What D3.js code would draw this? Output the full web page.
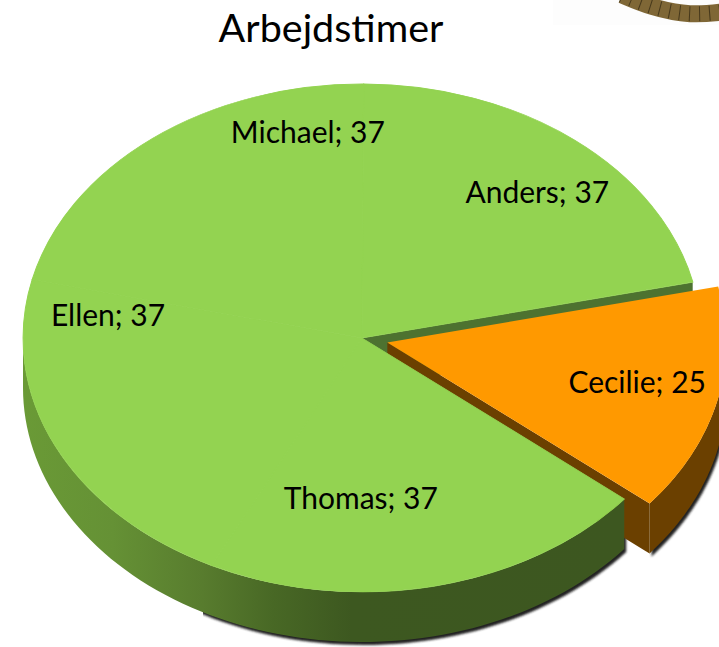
<!DOCTYPE html>
<html><head><meta charset="utf-8">
<script src="https://cdn.jsdelivr.net/npm/d3@7"></script>
<style>html,body{margin:0;padding:0;background:#fff;overflow:hidden}svg{display:block}text{font-family:Lato,"Open Sans",sans-serif;fill:#000}</style>
</head><body><svg id="c" width="719" height="647"></svg>
<script>
const title = "Arbejdstimer";
const names = ["Cecilie","Thomas","Ellen","Michael","Anders"];
const hours = [25,37,37,37,37];
const labelAngleDeg = [101.5,180.3,-82.8,-11.1,41.8];
const labelRadius = [255,212,256,281,263];

const W=719,H=647,cx=362,cy=338,rx=339,ry=254,depth=50,explode=26,rad=Math.PI/180;
const start=77.3*rad;
const svg=d3.select("#c");
const pie=d3.pie().sort(null).value(d=>d).startAngle(start).endAngle(start+2*Math.PI);
const arcs=pie(hours);
const arc=d3.arc().innerRadius(0).outerRadius(1);
const C=arcs[0], mid=(C.startAngle+C.endAngle)/2;
const ox=explode*Math.sin(mid), oy=-explode*Math.cos(mid)*ry/rx;
const px=(a,dx=0)=>cx+dx+rx*Math.sin(a), py=(a,dy=0)=>cy+dy-ry*Math.cos(a);

const defs=svg.append("defs");
const g=defs.append("linearGradient").attr("id","wall").attr("gradientUnits","userSpaceOnUse").attr("x1",23).attr("x2",620).attr("y1",0).attr("y2",0);
[[0,"#6a9a36"],[.15,"#659135"],[.3,"#587c2e"],[.42,"#486825"],[.55,"#3d5820"],[1,"#3d5720"]].forEach(s=>g.append("stop").attr("offset",s[0]).attr("stop-color",s[1]));
defs.append("filter").attr("id","blur").attr("x","-10%").attr("y","-10%").attr("width","120%").attr("height","120%").append("feGaussianBlur").attr("stdDeviation",1);
defs.append("clipPath").attr("id","shadowClip").append("rect").attr("x",203).attr("y",400).attr("width",520).attr("height",250);

// backdrop and rope fragment at the top right
svg.append("rect").attr("x",553).attr("y",0).attr("width",166).attr("height",25).attr("fill","#fdfdfd");
const ropeArc=d3.line().curve(d3.curveBasis);
const ropePts=[[622,-5],[650,7],[690,16],[730,11]];
svg.append("path").attr("d",ropeArc(ropePts)).attr("fill","none").attr("stroke","#7f6736").attr("stroke-width",17);
svg.append("path").attr("d",ropeArc(ropePts)).attr("fill","none").attr("stroke","#2f2510").attr("stroke-width",15).attr("stroke-dasharray","1 9").attr("opacity",.7);

const sweep=(a0,a1,dx,dy)=>{ // outer wall between two pie angles
  const n=80, t=d3.range(n+1).map(i=>a0+(a1-a0)*i/n);
  const top=t.map(a=>[px(a,dx),py(a,dy)]), bot=t.slice().reverse().map(a=>[px(a,dx),py(a,dy)+depth]);
  return d3.line()(top.concat(bot))+"Z";
};
const cut=(a,dx,dy)=>d3.line()([[cx+dx,cy+dy],[px(a,dx),py(a,dy)],[px(a,dx),py(a,dy)+depth],[cx+dx,cy+dy+depth]])+"Z";

// ground shadow
const shadow=svg.append("g").attr("clip-path","url(#shadowClip)").attr("filter","url(#blur)");
shadow.append("path").attr("d",sweep(arcs[1].startAngle,arcs[1].startAngle+140*rad,2,3)).attr("fill","#222");
shadow.append("path").attr("d",sweep(Math.PI/2,C.endAngle,ox+2,oy+3)).attr("fill","#222");

// cut faces and walls behind
svg.append("path").attr("d",cut(C.startAngle,0,0)).attr("fill","#4d7230");
svg.append("path").attr("d",cut(C.endAngle,ox,oy)).attr("fill","#6b4000");
svg.append("path").attr("d",sweep(Math.PI/2,C.endAngle,ox,oy)).attr("fill","#6b4000");
svg.append("path").attr("d",sweep(arcs[1].startAngle,1.5*Math.PI,0,0)).attr("fill","url(#wall)");

// top faces
svg.selectAll("path.top").data(arcs).join("path").attr("class","top")
  .attr("d",arc)
  .attr("transform",(d,i)=>`translate(${cx+(i?0:ox)},${cy+(i?0:oy)}) scale(${rx},${ry})`)
  .attr("fill",(d,i)=>i?"#93d351":"#ff9900")
  .attr("stroke",(d,i)=>i?"#93d351":"none").attr("stroke-width",.003);

// labels
svg.selectAll("text.lab").data(names).join("text").attr("class","lab")
  .attr("x",(d,i)=>cx+(i?0:ox)+labelRadius[i]*Math.sin(labelAngleDeg[i]*rad))
  .attr("y",(d,i)=>cy+(i?0:oy)-labelRadius[i]*Math.cos(labelAngleDeg[i]*rad)*ry/rx)
  .attr("text-anchor","middle").attr("dominant-baseline","central")
  .attr("font-size",30).text((d,i)=>`${d}; ${hours[i]}`);

svg.append("text").attr("x",331).attr("y",42).attr("text-anchor","middle").attr("font-size",39.5).text(title);
</script></body></html>
